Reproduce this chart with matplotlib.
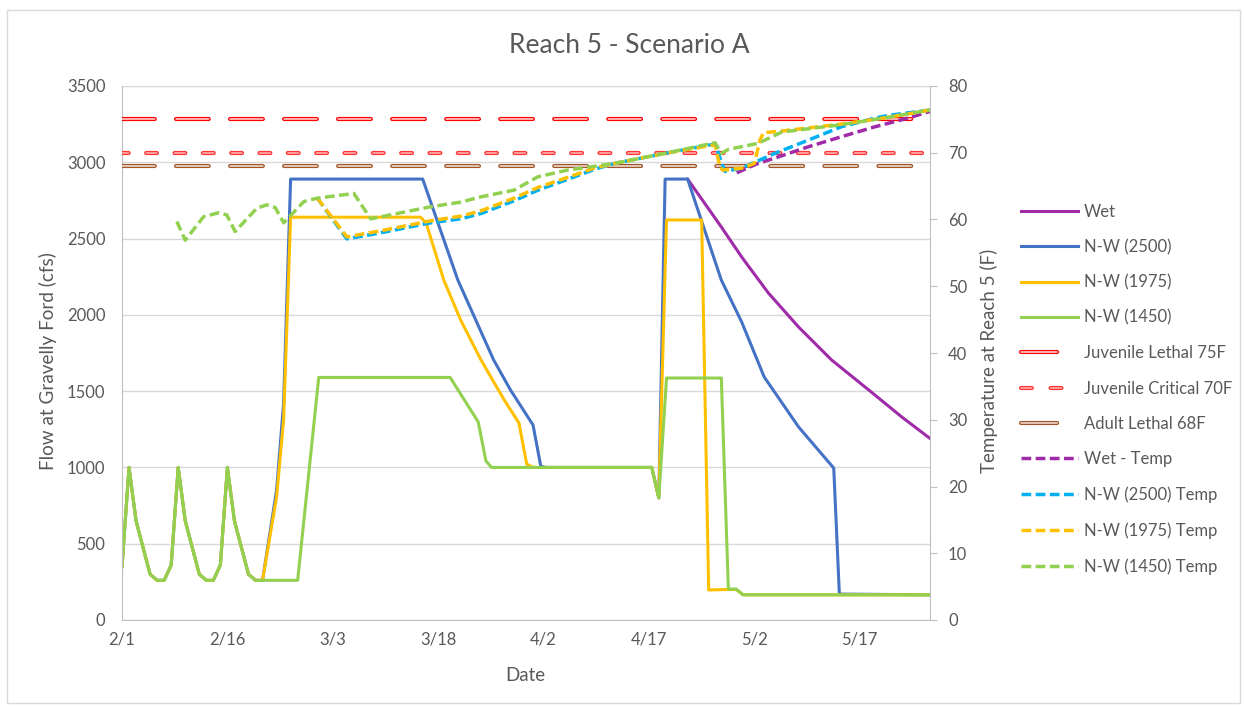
import numpy as np
import pandas as pd
import matplotlib
matplotlib.use("Agg")
import matplotlib.pyplot as plt
from matplotlib.lines import Line2D
from matplotlib.patches import Rectangle

plt.rcParams['font.family'] = ['Lato', 'DejaVu Sans']
plt.rcParams['lines.scale_dashes'] = False

base = pd.Timestamp('2015-02-01')

def to_dates(days):
    return base + pd.to_timedelta(np.array(days, dtype=float), unit='D')

# ---- flow data (cfs), x = days after 2/1 ----
wet_days = [80.5, 85.3, 88.2, 92.0, 96.3, 101.0, 106.3, 111.0, 115]
wet_flow = [2890, 2576, 2379, 2143, 1920, 1704, 1507, 1330, 1190]

nw2500_days = [0, 1, 2, 4, 5, 6, 7, 8, 9, 11, 12, 13, 14, 15, 16, 18, 19, 20,
               22, 23, 24, 42.8, 47.8, 52.9, 55.3, 58.5, 59.6, 60.3,
               75.4, 76.4, 77.3, 80.5, 85.3, 88.2, 91.4, 96.3, 101.3, 102.1, 115]
nw2500_flow = [350, 1000, 650, 300, 260, 260, 360, 1000, 650, 300, 260, 260, 360, 1000, 650, 300, 260, 260,
               850, 1420, 2890, 2890, 2228, 1704, 1507, 1278, 1009, 1000,
               1000, 800, 2890, 2890, 2228, 1953, 1593, 1265, 996, 170, 165]

nw1975_days = [0, 1, 2, 4, 5, 6, 7, 8, 9, 11, 12, 13, 14, 15, 16, 18, 19, 20,
               22, 23, 24, 42.5, 43.3, 45.8, 48.2, 51.1, 54.4, 56.5, 57.6, 58.5,
               75.4, 76.4, 77.5, 82.5, 83.5, 86.3, 87.4, 88.4, 115]
nw1975_flow = [350, 1000, 650, 300, 260, 260, 360, 1000, 650, 300, 260, 260, 360, 1000, 650, 300, 260, 260,
               806, 1311, 2640, 2640, 2600, 2228, 1966, 1704, 1442, 1291, 1022, 1000,
               1000, 800, 2622, 2622, 197, 200, 200, 165, 165]

nw1450_days = [0, 1, 2, 4, 5, 6, 7, 8, 9, 11, 12, 13, 14, 15, 16, 18, 19, 25,
               28, 46.7, 50.7, 51.8, 52.6, 75.4, 76.4, 77.5, 85.3, 86.3, 87.4, 88.4, 115]
nw1450_flow = [350, 1000, 650, 300, 260, 260, 360, 1000, 650, 300, 260, 260, 360, 1000, 650, 300, 260, 260,
               1590, 1590, 1298, 1042, 1000, 1000, 800, 1586, 1586, 203, 203, 165, 165]

# ---- temperature data (F) ----
wet_t_days = [87.5, 90.5, 92.9, 97.7, 102.4, 107.2, 111.9, 115]
wet_temp = [67.0, 68.4, 69.2, 70.9, 72.4, 73.9, 75.2, 76.2]

nw2500_t_days = [27.8, 32, 36.8, 43.9, 48.2, 51.1, 55.8, 59.2, 63.4, 67.2, 70.1, 77.2, 84.4,
                 85.8, 88.2, 92.9, 97.7, 102.4, 107.2, 109.1, 115]
nw2500_temp = [63.2, 57.1, 58.0, 59.5, 60.1, 60.9, 62.8, 64.4, 66.0, 67.5, 68.4, 69.9, 71.3,
               67.2, 67.7, 69.9, 71.9, 73.9, 75.2, 75.6, 76.4]

nw1975_t_days = [27.8, 32, 36.8, 43.9, 48.2, 51.1, 55.8, 59.2, 63.4, 67.2, 70.1, 77.2, 84.4,
                 85.1, 85.5, 88.2, 90.0, 90.8, 91.3, 94.3, 102.4, 109, 115]
nw1975_temp = [63.2, 57.4, 58.3, 59.8, 60.5, 61.3, 63.2, 64.8, 66.3, 67.7, 68.4, 69.9, 71.2,
               67.9, 67.4, 67.7, 68.4, 71.9, 73.0, 73.3, 74.3, 75.3, 76.4]

nw1450_t_days = [7.8, 9, 11.6, 13.7, 14.9, 16.1, 19.2, 20.6, 21.8, 23, 25.9, 27.8, 33, 35.4,
                 36.8, 43.9, 48.2, 51.1, 55.8, 59.2, 63.4, 70.1, 77.2, 84.4, 85.3, 86.3, 90.5,
                 93.9, 102.4, 109, 115]
nw1450_temp = [59.7, 56.9, 60.4, 61.0, 60.7, 58.2, 61.7, 62.2, 61.8, 59.5, 62.7, 63.2, 63.9, 60.1,
               60.4, 61.9, 62.6, 63.4, 64.4, 66.4, 67.4, 68.4, 69.9, 71.5, 69.9, 70.5, 71.4,
               73.1, 74.2, 75.3, 76.4]

limit_days = [0, 115]
juv_lethal = 75
juv_critical = 70
adult_lethal = 68

tick_labels = ['2/1', '2/16', '3/3', '3/18', '4/2', '4/17', '5/2', '5/17']

grey = '#595959'

fig = plt.figure(figsize=(12.44, 7.06), dpi=100)
ax = fig.add_axes([122 / 1244, 1 - 620 / 706, 808 / 1244, 534 / 706])
ax2 = ax.twinx()

fig.patches.append(Rectangle((0.006, 0.004), 0.991, 0.982, transform=fig.transFigure,
                             fill=False, edgecolor='#D9D9D9', linewidth=1))

lw = 2.2
l_wet, = ax.plot(to_dates(wet_days), wet_flow, color='#A02BA8', lw=lw, label='Wet')
l_b, = ax.plot(to_dates(nw2500_days), nw2500_flow, color='#4472C4', lw=lw, label='N-W (2500)')
l_y, = ax.plot(to_dates(nw1975_days), nw1975_flow, color='#FFC000', lw=lw, label='N-W (1975)')
l_g, = ax.plot(to_dates(nw1450_days), nw1450_flow, color='#92D050', lw=lw, label='N-W (1450)')

# double-line thresholds: thick outer line + thin pale line on top, same dash pattern
def limit_line(val, outer, inner, style, legend_style):
    ax2.plot(to_dates(limit_days), [val, val], color=outer, lw=3.0, linestyle=style,
             dash_capstyle='round')
    ax2.plot(to_dates(limit_days), [val, val], color=inner, lw=1.1, linestyle=style,
             dash_capstyle='round')
    # legend proxies (Excel draws shorter patterns in the key)
    po = Line2D([], [], color=outer, lw=3.0, linestyle=legend_style, dash_capstyle='round')
    pi = Line2D([], [], color=inner, lw=1.1, linestyle=legend_style, dash_capstyle='round')
    return (po, pi)

l_jl = limit_line(juv_lethal, '#FF0000', '#FFE0E0', (0, (23.6, 15.3)), (0, (26, 40)))
l_jc = limit_line(juv_critical, '#FF3333', '#FFB8B8', (3, (7.8, 12.6)), (0, (7.8, 13.5)))
l_al = limit_line(adult_lethal, '#A0562A', '#F4E6DC', (0, (23.6, 15.3)), (0, (26, 40)))

dash = (0, (7.0, 3.2))
tw = 2.5
t_wet, = ax2.plot(to_dates(wet_t_days), wet_temp, color='#A02BA8', lw=tw, linestyle=dash)
t_b, = ax2.plot(to_dates(nw2500_t_days), nw2500_temp, color='#00B0F0', lw=tw, linestyle=dash)
t_y, = ax2.plot(to_dates(nw1975_t_days), nw1975_temp, color='#FFC000', lw=tw, linestyle=dash)
t_g, = ax2.plot(to_dates(nw1450_t_days), nw1450_temp, color='#92D050', lw=tw, linestyle=dash)

ax.set_ylim(0, 3500)
ax2.set_ylim(0, 80)
ax.set_xlim(to_dates([0])[0], to_dates([115])[0])
ax.set_yticks(np.arange(0, 3501, 500))
ax2.set_yticks(np.arange(0, 81, 10))
ax.set_xticks(to_dates(np.arange(0, 106, 15)))
ax.set_xticklabels(tick_labels)

ax.grid(axis='y', color='#D9D9D9', lw=1)
ax.set_axisbelow(True)
for a in (ax, ax2):
    for s in a.spines.values():
        s.set_visible(False)
ax.spines['bottom'].set_visible(True)
ax.spines['bottom'].set_color('#BFBFBF')
ax.spines['left'].set_visible(True)
ax.spines['left'].set_color('#BFBFBF')
ax2.spines['right'].set_visible(True)
ax2.spines['right'].set_color('#BFBFBF')

ax.tick_params(axis='y', length=0, labelsize=12, labelcolor=grey, pad=12)
ax.tick_params(axis='x', length=0, labelsize=12, labelcolor=grey, pad=8)
ax2.tick_params(axis='y', length=5, color='#BFBFBF', labelsize=12, labelcolor=grey, pad=8)

ax.set_ylabel('Flow at Gravelly Ford (cfs)', fontsize=13.6, color=grey)
ax.yaxis.set_label_coords(-0.081, 0.485)
ax2.set_ylabel('Temperature at Reach 5 (F)', fontsize=13.5, color=grey)
ax2.yaxis.set_label_coords(1.062, 0.485)
ax.set_xlabel('Date', fontsize=13.5, color=grey)
ax.xaxis.set_label_coords(0.499, -0.088)

fig.text(0.506, 0.936, 'Reach 5 - Scenario A', ha='center', va='center', fontsize=19, color=grey)

handles = [l_wet, l_b, l_y, l_g, l_jl, l_jc, l_al, t_wet, t_b, t_y, t_g]
labels = ['Wet', 'N-W (2500)', 'N-W (1975)', 'N-W (1450)', 'Juvenile Lethal 75F',
          'Juvenile Critical 70F', 'Adult Lethal 68F', 'Wet - Temp', 'N-W (2500) Temp',
          'N-W (1975) Temp', 'N-W (1450) Temp']
fig.legend(handles, labels, loc='upper left',
           bbox_to_anchor=(0.809, 0.733), frameon=False, fontsize=12,
           handlelength=3.4, handletextpad=0.35, labelspacing=1.16, labelcolor=grey)

fig.savefig('out.png', dpi=100)
